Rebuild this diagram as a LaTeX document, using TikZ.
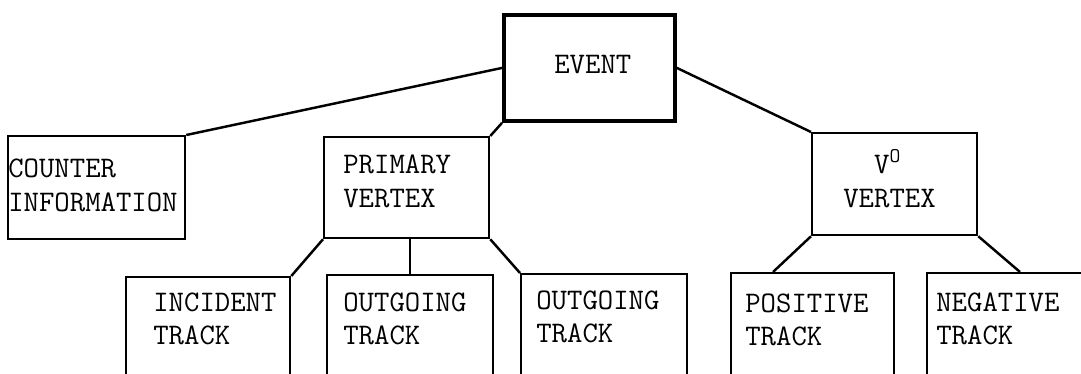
\documentclass[tikz,border=0pt]{standalone}
\usetikzlibrary{calc}

\tikzset{
  box/.style 2 args={draw, rectangle, anchor=north west, inner sep=0pt,
    line width=1.3pt, minimum width=#1*0.02cm, minimum height=#2*0.02cm},
  lbl/.style={anchor=base west, inner sep=0pt, align=left,
    font=\ttfamily\fontsize{17}{19.35}\selectfont},
  conn/.style={line width=1.4pt}
}

\begin{document}
\begin{tikzpicture}[x=0.02cm, y=-0.02cm]
  \useasboundingbox (0,0) rectangle (1081,374);
  \fill[white] (0,0) rectangle (1081,374);
  \clip (0,0) rectangle (1081,374);

  % boxes
  \node[box={171}{106}, line width=2.2pt] (event) at (502,13) {};
  \node[box={177}{103}] (counter) at (7,135) {};
  \node[box={165}{101}] (primary) at (323,136) {};
  \node[box={165}{102}] (vzero) at (811,132) {};
  \node[box={164}{150}] (incident) at (125,276) {};
  \node[box={166}{150}] (outa) at (326,274) {};
  \node[box={166}{150}] (outb) at (520,273) {};
  \node[box={163}{150}] (positive) at (730,272) {};
  \node[box={200}{150}] (negative) at (926,272) {};

  % texts (base = last line)
  \node[lbl] (eventlbl) at (554,74) {EVENT};
  \node[lbl] (counterlbl) at (8,212) {COUNTER\\INFORMATION};
  \node[lbl] (primarylbl) at (343,208) {PRIMARY\\VERTEX};
  \node[lbl] (vzerolbl) at (843,208) {~~V\textsuperscript{O}\\VERTEX};
  \node[lbl] (incidentlbl) at (153,345) {INCIDENT\\TRACK};
  \node[lbl] (outalbl) at (343,345) {OUTGOING\\TRACK};
  \node[lbl] (outblbl) at (536,343) {OUTGOING\\TRACK};
  \node[lbl] (positivelbl) at (745,346) {POSITIVE\\TRACK};
  \node[lbl] (negativelbl) at (936,345) {NEGATIVE\\TRACK};

  % connectors
  \draw[conn] (event.west) -- (counter.north east);
  \draw[conn] (event.south west) -- (primary.north east);
  \draw[conn] (event.east) -- (vzero.north west);
  \draw[conn] (primary.south west) -- (incident.north east);
  \draw[conn] (outa.north |- primary.south) -- (outa.north);
  \draw[conn] (primary.south east) -- (outb.north west);
  \draw[conn] (vzero.south west) -- ($(positive.north west)+(43,0)$);
  \draw[conn] (vzero.south east) -- ($(negative.north west)+(94,0)$);
\end{tikzpicture}
\end{document}
